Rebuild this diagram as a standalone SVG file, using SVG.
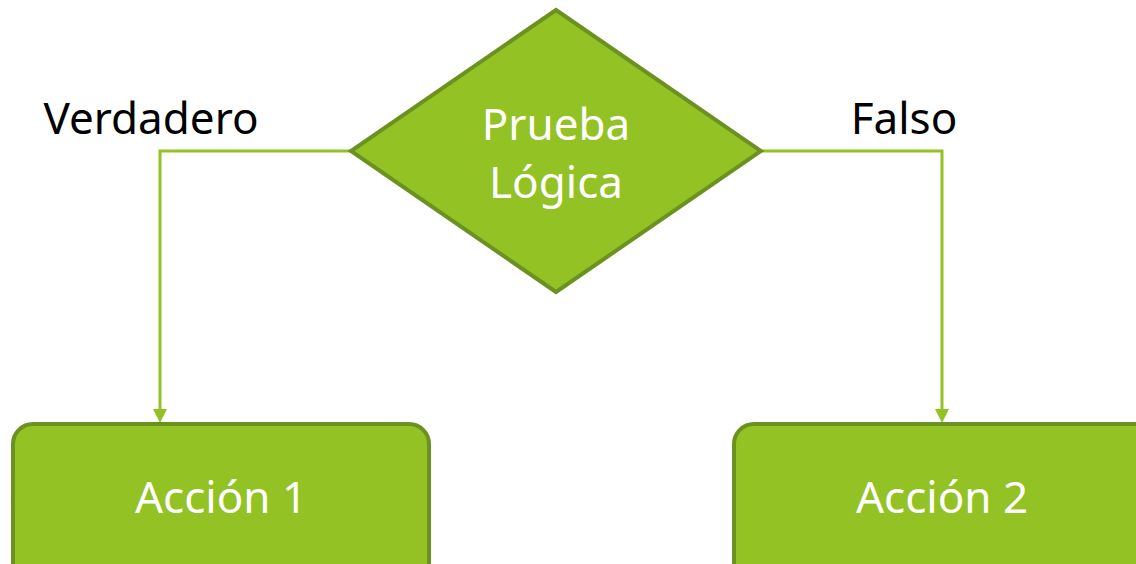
<svg xmlns="http://www.w3.org/2000/svg" width="1136" height="564" viewBox="0 0 1136 564">
<style>
.shape{fill:#93c225;stroke:#6b9220;stroke-width:4}
.lbl{font-family:"Noto Sans",sans-serif;font-size:44px;fill:#ffffff;text-anchor:middle}
.edge{font-family:"Noto Sans",sans-serif;font-size:44px;fill:#000000;text-anchor:middle}
.conn{fill:none;stroke:#93c225;stroke-width:3}
.head{fill:#93c225}
</style>
<g id="connectors">
<path class="conn" d="M351,151 H160 V410"/>
<polygon class="head" points="153,409 167,409 160,423"/>
<path class="conn" d="M761,151 H942 V410"/>
<polygon class="head" points="935,409 949,409 942,423"/>
</g>
<g id="decision">
<polygon class="shape" points="556,10 761,151 556,292 351,151"/>
<text class="lbl" x="556" y="140">Prueba</text>
<text class="lbl" x="556" y="198">Lógica</text>
</g>
<g id="accion1">
<rect class="shape" x="13" y="424" width="416" height="160" rx="20"/>
<text class="lbl" x="221" y="513">Acción 1</text>
</g>
<g id="accion2">
<rect class="shape" x="734" y="424" width="420" height="160" rx="20"/>
<text class="lbl" x="942" y="513">Acción 2</text>
</g>
<g id="labels">
<text class="edge" x="151" y="134">Verdadero</text>
<text class="edge" x="904" y="134">Falso</text>
</g>
</svg>
